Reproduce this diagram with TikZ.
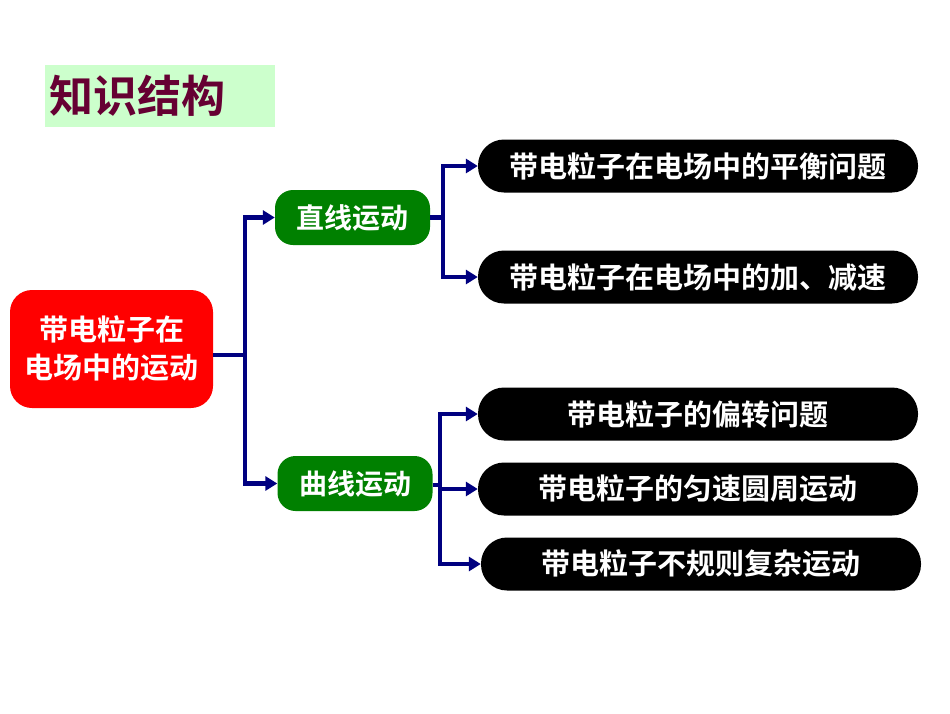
\documentclass[tikz,border=0pt]{standalone}
\usepackage{fontspec}
\newfontfamily\cjk{Noto Sans CJK SC}[BoldFont={Noto Sans CJK SC Bold}]
\usetikzlibrary{arrows.meta,shapes.geometric}
\definecolor{navy}{RGB}{0,0,128}
\definecolor{tgreen}{RGB}{0,128,0}
\definecolor{lgreen}{RGB}{204,255,204}
\definecolor{maroon}{RGB}{102,0,51}
\tikzset{
 oval/.style={rounded corners=26pt,fill=black,text=white,font=\cjk\bfseries\fontsize{29}{32}\selectfont,minimum width=440pt,minimum height=53pt,inner sep=0pt},
 gbox/.style={rounded corners=18pt,fill=tgreen,text=white,font=\cjk\bfseries\fontsize{28}{30}\selectfont,minimum width=155pt,minimum height=55pt,inner sep=0pt},
 conn/.style={navy,line width=4.5pt},
 arr/.style={conn,-{Triangle[length=12pt,width=14pt]}}
}
\begin{document}
\begin{tikzpicture}[x=1pt,y=-1pt]
\useasboundingbox (0,0) rectangle (950,713);
\fill[white] (0,0) rectangle (950,713);
\node[fill=lgreen,minimum width=230pt,minimum height=62pt,text=maroon,font=\cjk\bfseries\fontsize{44}{48}\selectfont,inner sep=0pt,anchor=north west,text width=222pt,align=left] (title) at (45,65) {知识结构};
\node[rounded corners=22pt,fill=red,text=white,font=\cjk\bfseries\fontsize{29}{38}\selectfont,minimum width=203pt,minimum height=118pt,align=center,inner sep=0pt] (root) at (111.5,349) {带电粒子在\\电场中的运动};
\node[gbox] (g1) at (352.5,217.5) {直线运动};
\node[gbox] (g2) at (355,483.5) {曲线运动};
\node[oval] (e1) at (698,166) {带电粒子在电场中的平衡问题};
\node[oval] (e2) at (698,277) {带电粒子在电场中的加、减速};
\node[oval] (e3) at (698,414) {带电粒子的偏转问题};
\node[oval] (e4) at (698,489) {带电粒子的匀速圆周运动};
\node[oval] (e5) at (701,564) {带电粒子不规则复杂运动};
\coordinate (r0) at (245,355);
\coordinate (a0) at (443,217.5);
\coordinate (b0) at (440,485);
\draw[conn] (root.east |- r0) -- (r0);
\draw[arr] (r0) -- (245,217.5) -- (g1.west);
\draw[arr] (r0) -- (245,483.5) -- (g2.west);
\draw[conn] (g1.east) -- (a0);
\draw[arr] (a0) -- (443,166) -- (e1.west);
\draw[arr] (a0) -- (443,277) -- (e2.west);
\draw[conn] (g2.east |- b0) -- (b0);
\draw[arr] (b0) -- (440,414) -- (e3.west);
\draw[arr] (b0) -- (440,489) -- (e4.west);
\draw[arr] (b0) -- (440,564) -- (e5.west);
\end{tikzpicture}
\end{document}
